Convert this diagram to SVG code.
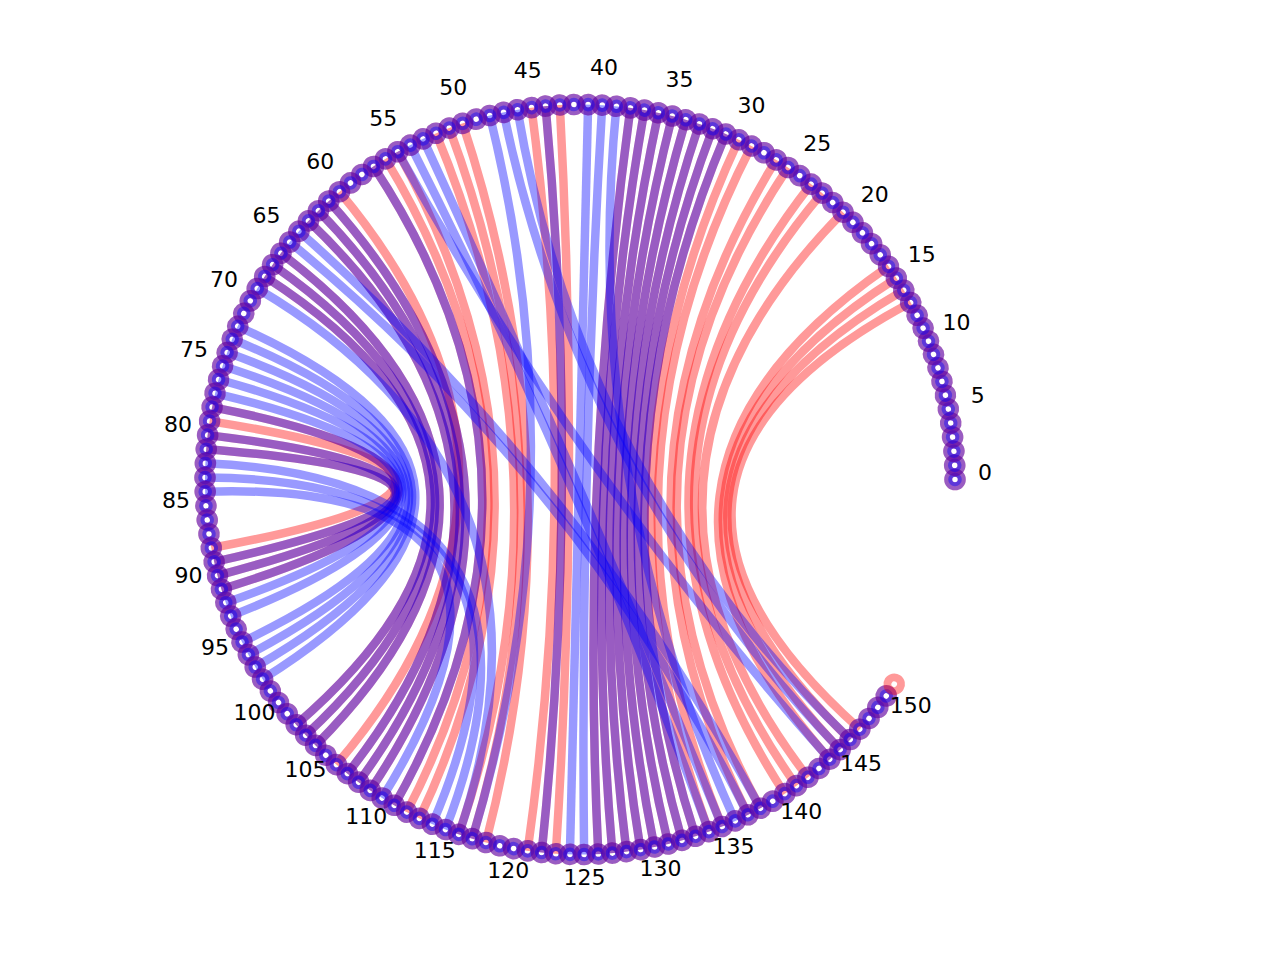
<svg xmlns="http://www.w3.org/2000/svg" xmlns:xlink="http://www.w3.org/1999/xlink" width="1280" height="960" viewBox="0 0 1280 960">
<style>
.cr{fill:none;stroke:rgba(255,0,0,0.4);stroke-width:8.5}
.cb{fill:none;stroke:rgba(0,0,255,0.4);stroke-width:8.5}
.rr{fill:none;stroke:rgba(255,0,0,0.4);stroke-width:8}
.br{fill:none;stroke:rgba(0,0,255,0.4);stroke-width:8}
.bi{fill:none;stroke:rgba(0,0,255,0.4);stroke-width:4}
.lb{font-family:"DejaVu Sans","Liberation Sans",sans-serif;font-size:22px;fill:#000;text-anchor:middle}
</style>
<defs>
<circle id="R" class="rr" cx="955" cy="479.5" r="6.8"/>
<g id="B"><circle class="br" cx="955" cy="479.5" r="6.8"/><circle class="bi" cx="955" cy="479.5" r="4.8"/></g>
</defs>
<rect width="1280" height="960" fill="#fff"/>
<g id="connectors">
<g id="red-chords">
<path class="cr" d="M910.7 302.6Q580 479.5 859.8 729.1"/>
<path class="cr" d="M903.8 290.2Q580 479.5 850.2 739.6"/>
<path class="cr" d="M896.4 278.1Q580 479.5 840.1 749.6"/>
<path class="cr" d="M888.5 266.3Q580 479.5 829.7 759.3"/>
<path class="cr" d="M843 212.2Q580 479.5 807.9 777.3"/>
<path class="cr" d="M822.1 193.1Q580 479.5 796.5 785.7"/>
<path class="cr" d="M811.1 184.2Q580 479.5 784.8 793.7"/>
<path class="cr" d="M788.1 167.6Q580 479.5 760.5 808.2"/>
<path class="cr" d="M776.2 159.9Q580 479.5 748 814.8"/>
<path class="cr" d="M751.5 146Q580 479.5 722.1 826.5"/>
<path class="cr" d="M738.8 139.8Q580 479.5 708.9 831.6"/>
<path class="cr" d="M559.8 105.1Q580 479.5 555.8 853.7"/>
<path class="cr" d="M531.5 107.7Q580 479.5 527.6 850.8"/>
<path class="cr" d="M462.6 123.4Q580 479.5 485.9 842.5"/>
<path class="cr" d="M449.2 128.1Q580 479.5 472.3 838.7"/>
<path class="cr" d="M436 133.3Q580 479.5 458.8 834.4"/>
<path class="cr" d="M397.7 151.8Q580 479.5 419.4 818.4"/>
<path class="cr" d="M385.5 158.9Q580 479.5 406.7 812.1"/>
<path class="cr" d="M339.5 191.8Q580 479.5 336.4 764.6"/>
<path class="cr" d="M209.6 421.1Q580 479.5 211.3 548"/>
<path class="cr" d="M725.8 134Q580 479.5 695.5 836.3"/>
<path class="cr" d="M712.7 128.8Q580 479.5 682 840.4"/>
<path class="cr" d="M699.3 124Q580 479.5 668.3 844"/>
<path class="cr" d="M685.8 119.7Q580 479.5 654.4 847"/>
<path class="cr" d="M672.2 116Q580 479.5 640.5 849.6"/>
<path class="cr" d="M658.4 112.8Q580 479.5 626.5 851.6"/>
<path class="cr" d="M644.4 110.1Q580 479.5 612.4 853.1"/>
<path class="cr" d="M630.4 107.9Q580 479.5 598.3 854.1"/>
<path class="cr" d="M545.6 106.1Q580 479.5 541.7 852.5"/>
<path class="cr" d="M373.5 166.4Q580 479.5 394.3 805.3"/>
<path class="cr" d="M328.8 201.1Q580 479.5 370.2 790.3"/>
<path class="cr" d="M318.4 210.8Q580 479.5 358.6 782.2"/>
<path class="cr" d="M308.5 220.9Q580 479.5 347.4 773.6"/>
<path class="cr" d="M280.9 253.2Q580 479.5 315.6 745.4"/>
<path class="cr" d="M272.6 264.7Q580 479.5 305.7 735.2"/>
<path class="cr" d="M264.7 276.5Q580 479.5 296.2 724.7"/>
<path class="cr" d="M212.1 407.1Q580 479.5 221.4 589.2"/>
<path class="cr" d="M207.6 435.1Q580 479.5 217.5 575.6"/>
<path class="cr" d="M206.2 449.2Q580 479.5 214.2 561.9"/>
</g>
<g id="blue-chords">
<path class="cb" d="M725.8 134Q580 479.5 695.5 836.3"/>
<path class="cb" d="M712.7 128.8Q580 479.5 682 840.4"/>
<path class="cb" d="M699.3 124Q580 479.5 668.3 844"/>
<path class="cb" d="M685.8 119.7Q580 479.5 654.4 847"/>
<path class="cb" d="M672.2 116Q580 479.5 640.5 849.6"/>
<path class="cb" d="M658.4 112.8Q580 479.5 626.5 851.6"/>
<path class="cb" d="M644.4 110.1Q580 479.5 612.4 853.1"/>
<path class="cb" d="M630.4 107.9Q580 479.5 598.3 854.1"/>
<path class="cb" d="M545.6 106.1Q580 479.5 541.7 852.5"/>
<path class="cb" d="M373.5 166.4Q580 479.5 394.3 805.3"/>
<path class="cb" d="M328.8 201.1Q580 479.5 370.2 790.3"/>
<path class="cb" d="M318.4 210.8Q580 479.5 358.6 782.2"/>
<path class="cb" d="M308.5 220.9Q580 479.5 347.4 773.6"/>
<path class="cb" d="M280.9 253.2Q580 479.5 315.6 745.4"/>
<path class="cb" d="M272.6 264.7Q580 479.5 305.7 735.2"/>
<path class="cb" d="M264.7 276.5Q580 479.5 296.2 724.7"/>
<path class="cb" d="M212.1 407.1Q580 479.5 221.4 589.2"/>
<path class="cb" d="M207.6 435.1Q580 479.5 217.5 575.6"/>
<path class="cb" d="M206.2 449.2Q580 479.5 214.2 561.9"/>
<path class="cb" d="M602.2 105.2Q580 479.5 584.1 854.5"/>
<path class="cb" d="M588.1 104.6Q580 479.5 569.9 854.4"/>
<path class="cb" d="M616.4 106.3Q580 479.5 735.2 820.9"/>
<path class="cb" d="M517.5 109.7Q580 479.5 850.2 739.6"/>
<path class="cb" d="M503.6 112.4Q580 479.5 840.1 749.6"/>
<path class="cb" d="M489.8 115.5Q580 479.5 472.3 838.7"/>
<path class="cb" d="M423 138.9Q580 479.5 722.1 826.5"/>
<path class="cb" d="M410.3 145.1Q580 479.5 708.9 831.6"/>
<path class="cb" d="M397.7 151.8Q580 479.5 829.7 759.3"/>
<path class="cb" d="M298.9 231.3Q580 479.5 760.5 808.2"/>
<path class="cb" d="M289.7 242.1Q580 479.5 748 814.8"/>
<path class="cb" d="M257.3 288.5Q580 479.5 458.8 834.4"/>
<path class="cb" d="M237.7 326.3Q580 479.5 262.6 679.2"/>
<path class="cb" d="M232.2 339.3Q580 479.5 255.3 667"/>
<path class="cb" d="M227.2 352.5Q580 479.5 248.4 654.7"/>
<path class="cb" d="M222.6 366Q580 479.5 242 642"/>
<path class="cb" d="M218.6 379.5Q580 479.5 230.7 616"/>
<path class="cb" d="M215.1 393.3Q580 479.5 225.8 602.7"/>
<path class="cb" d="M205.4 463.3Q580 479.5 445.5 829.5"/>
<path class="cb" d="M205 477.5Q580 479.5 432.3 824.2"/>
<path class="cb" d="M205.2 491.7Q580 479.5 382.1 798"/>
</g>
</g>
<g id="nodes">
<g id="n0"><use xlink:href="#R"/><use xlink:href="#B"/></g>
<g id="n1" transform="rotate(-2.165 580 479.5)"><use xlink:href="#R"/><use xlink:href="#B"/></g>
<g id="n2" transform="rotate(-4.33 580 479.5)"><use xlink:href="#R"/><use xlink:href="#B"/></g>
<g id="n3" transform="rotate(-6.495 580 479.5)"><use xlink:href="#R"/><use xlink:href="#B"/></g>
<g id="n4" transform="rotate(-8.66 580 479.5)"><use xlink:href="#R"/><use xlink:href="#B"/></g>
<g id="n5" transform="rotate(-10.825 580 479.5)"><use xlink:href="#R"/><use xlink:href="#B"/></g>
<g id="n6" transform="rotate(-12.99 580 479.5)"><use xlink:href="#R"/><use xlink:href="#B"/></g>
<g id="n7" transform="rotate(-15.155 580 479.5)"><use xlink:href="#R"/><use xlink:href="#B"/></g>
<g id="n8" transform="rotate(-17.32 580 479.5)"><use xlink:href="#R"/><use xlink:href="#B"/></g>
<g id="n9" transform="rotate(-19.485 580 479.5)"><use xlink:href="#R"/><use xlink:href="#B"/></g>
<g id="n10" transform="rotate(-21.65 580 479.5)"><use xlink:href="#R"/><use xlink:href="#B"/></g>
<g id="n11" transform="rotate(-23.815 580 479.5)"><use xlink:href="#R"/><use xlink:href="#B"/></g>
<g id="n12" transform="rotate(-25.98 580 479.5)"><use xlink:href="#R"/><use xlink:href="#B"/></g>
<g id="n13" transform="rotate(-28.145 580 479.5)"><use xlink:href="#R"/><use xlink:href="#B"/></g>
<g id="n14" transform="rotate(-30.31 580 479.5)"><use xlink:href="#R"/><use xlink:href="#B"/></g>
<g id="n15" transform="rotate(-32.475 580 479.5)"><use xlink:href="#R"/><use xlink:href="#B"/></g>
<g id="n16" transform="rotate(-34.64 580 479.5)"><use xlink:href="#R"/><use xlink:href="#B"/></g>
<g id="n17" transform="rotate(-36.805 580 479.5)"><use xlink:href="#R"/><use xlink:href="#B"/></g>
<g id="n18" transform="rotate(-38.97 580 479.5)"><use xlink:href="#R"/><use xlink:href="#B"/></g>
<g id="n19" transform="rotate(-41.135 580 479.5)"><use xlink:href="#R"/><use xlink:href="#B"/></g>
<g id="n20" transform="rotate(-43.3 580 479.5)"><use xlink:href="#R"/><use xlink:href="#B"/></g>
<g id="n21" transform="rotate(-45.465 580 479.5)"><use xlink:href="#R"/><use xlink:href="#B"/></g>
<g id="n22" transform="rotate(-47.63 580 479.5)"><use xlink:href="#R"/><use xlink:href="#B"/></g>
<g id="n23" transform="rotate(-49.795 580 479.5)"><use xlink:href="#R"/><use xlink:href="#B"/></g>
<g id="n24" transform="rotate(-51.96 580 479.5)"><use xlink:href="#R"/><use xlink:href="#B"/></g>
<g id="n25" transform="rotate(-54.125 580 479.5)"><use xlink:href="#R"/><use xlink:href="#B"/></g>
<g id="n26" transform="rotate(-56.29 580 479.5)"><use xlink:href="#R"/><use xlink:href="#B"/></g>
<g id="n27" transform="rotate(-58.455 580 479.5)"><use xlink:href="#R"/><use xlink:href="#B"/></g>
<g id="n28" transform="rotate(-60.62 580 479.5)"><use xlink:href="#R"/><use xlink:href="#B"/></g>
<g id="n29" transform="rotate(-62.785 580 479.5)"><use xlink:href="#R"/><use xlink:href="#B"/></g>
<g id="n30" transform="rotate(-64.95 580 479.5)"><use xlink:href="#R"/><use xlink:href="#B"/></g>
<g id="n31" transform="rotate(-67.115 580 479.5)"><use xlink:href="#R"/><use xlink:href="#B"/></g>
<g id="n32" transform="rotate(-69.28 580 479.5)"><use xlink:href="#R"/><use xlink:href="#B"/></g>
<g id="n33" transform="rotate(-71.445 580 479.5)"><use xlink:href="#R"/><use xlink:href="#B"/></g>
<g id="n34" transform="rotate(-73.61 580 479.5)"><use xlink:href="#R"/><use xlink:href="#B"/></g>
<g id="n35" transform="rotate(-75.775 580 479.5)"><use xlink:href="#R"/><use xlink:href="#B"/></g>
<g id="n36" transform="rotate(-77.94 580 479.5)"><use xlink:href="#R"/><use xlink:href="#B"/></g>
<g id="n37" transform="rotate(-80.105 580 479.5)"><use xlink:href="#R"/><use xlink:href="#B"/></g>
<g id="n38" transform="rotate(-82.27 580 479.5)"><use xlink:href="#R"/><use xlink:href="#B"/></g>
<g id="n39" transform="rotate(-84.435 580 479.5)"><use xlink:href="#R"/><use xlink:href="#B"/></g>
<g id="n40" transform="rotate(-86.6 580 479.5)"><use xlink:href="#R"/><use xlink:href="#B"/></g>
<g id="n41" transform="rotate(-88.765 580 479.5)"><use xlink:href="#R"/><use xlink:href="#B"/></g>
<g id="n42" transform="rotate(-90.93 580 479.5)"><use xlink:href="#R"/><use xlink:href="#B"/></g>
<g id="n43" transform="rotate(-93.095 580 479.5)"><use xlink:href="#R"/><use xlink:href="#B"/></g>
<g id="n44" transform="rotate(-95.26 580 479.5)"><use xlink:href="#R"/><use xlink:href="#B"/></g>
<g id="n45" transform="rotate(-97.425 580 479.5)"><use xlink:href="#R"/><use xlink:href="#B"/></g>
<g id="n46" transform="rotate(-99.59 580 479.5)"><use xlink:href="#R"/><use xlink:href="#B"/></g>
<g id="n47" transform="rotate(-101.755 580 479.5)"><use xlink:href="#R"/><use xlink:href="#B"/></g>
<g id="n48" transform="rotate(-103.92 580 479.5)"><use xlink:href="#R"/><use xlink:href="#B"/></g>
<g id="n49" transform="rotate(-106.085 580 479.5)"><use xlink:href="#R"/><use xlink:href="#B"/></g>
<g id="n50" transform="rotate(-108.25 580 479.5)"><use xlink:href="#R"/><use xlink:href="#B"/></g>
<g id="n51" transform="rotate(-110.415 580 479.5)"><use xlink:href="#R"/><use xlink:href="#B"/></g>
<g id="n52" transform="rotate(-112.58 580 479.5)"><use xlink:href="#R"/><use xlink:href="#B"/></g>
<g id="n53" transform="rotate(-114.745 580 479.5)"><use xlink:href="#R"/><use xlink:href="#B"/></g>
<g id="n54" transform="rotate(-116.91 580 479.5)"><use xlink:href="#R"/><use xlink:href="#B"/></g>
<g id="n55" transform="rotate(-119.075 580 479.5)"><use xlink:href="#R"/><use xlink:href="#B"/></g>
<g id="n56" transform="rotate(-121.24 580 479.5)"><use xlink:href="#R"/><use xlink:href="#B"/></g>
<g id="n57" transform="rotate(-123.405 580 479.5)"><use xlink:href="#R"/><use xlink:href="#B"/></g>
<g id="n58" transform="rotate(-125.57 580 479.5)"><use xlink:href="#R"/><use xlink:href="#B"/></g>
<g id="n59" transform="rotate(-127.735 580 479.5)"><use xlink:href="#R"/><use xlink:href="#B"/></g>
<g id="n60" transform="rotate(-129.9 580 479.5)"><use xlink:href="#R"/><use xlink:href="#B"/></g>
<g id="n61" transform="rotate(-132.065 580 479.5)"><use xlink:href="#R"/><use xlink:href="#B"/></g>
<g id="n62" transform="rotate(-134.23 580 479.5)"><use xlink:href="#R"/><use xlink:href="#B"/></g>
<g id="n63" transform="rotate(-136.395 580 479.5)"><use xlink:href="#R"/><use xlink:href="#B"/></g>
<g id="n64" transform="rotate(-138.56 580 479.5)"><use xlink:href="#R"/><use xlink:href="#B"/></g>
<g id="n65" transform="rotate(-140.725 580 479.5)"><use xlink:href="#R"/><use xlink:href="#B"/></g>
<g id="n66" transform="rotate(-142.89 580 479.5)"><use xlink:href="#R"/><use xlink:href="#B"/></g>
<g id="n67" transform="rotate(-145.055 580 479.5)"><use xlink:href="#R"/><use xlink:href="#B"/></g>
<g id="n68" transform="rotate(-147.22 580 479.5)"><use xlink:href="#R"/><use xlink:href="#B"/></g>
<g id="n69" transform="rotate(-149.385 580 479.5)"><use xlink:href="#R"/><use xlink:href="#B"/></g>
<g id="n70" transform="rotate(-151.55 580 479.5)"><use xlink:href="#R"/><use xlink:href="#B"/></g>
<g id="n71" transform="rotate(-153.715 580 479.5)"><use xlink:href="#R"/><use xlink:href="#B"/></g>
<g id="n72" transform="rotate(-155.88 580 479.5)"><use xlink:href="#R"/><use xlink:href="#B"/></g>
<g id="n73" transform="rotate(-158.045 580 479.5)"><use xlink:href="#R"/><use xlink:href="#B"/></g>
<g id="n74" transform="rotate(-160.21 580 479.5)"><use xlink:href="#R"/><use xlink:href="#B"/></g>
<g id="n75" transform="rotate(-162.375 580 479.5)"><use xlink:href="#R"/><use xlink:href="#B"/></g>
<g id="n76" transform="rotate(-164.54 580 479.5)"><use xlink:href="#R"/><use xlink:href="#B"/></g>
<g id="n77" transform="rotate(-166.705 580 479.5)"><use xlink:href="#R"/><use xlink:href="#B"/></g>
<g id="n78" transform="rotate(-168.87 580 479.5)"><use xlink:href="#R"/><use xlink:href="#B"/></g>
<g id="n79" transform="rotate(-171.035 580 479.5)"><use xlink:href="#R"/><use xlink:href="#B"/></g>
<g id="n80" transform="rotate(-173.2 580 479.5)"><use xlink:href="#R"/><use xlink:href="#B"/></g>
<g id="n81" transform="rotate(-175.365 580 479.5)"><use xlink:href="#R"/><use xlink:href="#B"/></g>
<g id="n82" transform="rotate(-177.53 580 479.5)"><use xlink:href="#R"/><use xlink:href="#B"/></g>
<g id="n83" transform="rotate(-179.695 580 479.5)"><use xlink:href="#R"/><use xlink:href="#B"/></g>
<g id="n84" transform="rotate(-181.86 580 479.5)"><use xlink:href="#R"/><use xlink:href="#B"/></g>
<g id="n85" transform="rotate(-184.025 580 479.5)"><use xlink:href="#R"/><use xlink:href="#B"/></g>
<g id="n86" transform="rotate(-186.19 580 479.5)"><use xlink:href="#R"/><use xlink:href="#B"/></g>
<g id="n87" transform="rotate(-188.355 580 479.5)"><use xlink:href="#R"/><use xlink:href="#B"/></g>
<g id="n88" transform="rotate(-190.52 580 479.5)"><use xlink:href="#R"/><use xlink:href="#B"/></g>
<g id="n89" transform="rotate(-192.685 580 479.5)"><use xlink:href="#R"/><use xlink:href="#B"/></g>
<g id="n90" transform="rotate(-194.85 580 479.5)"><use xlink:href="#R"/><use xlink:href="#B"/></g>
<g id="n91" transform="rotate(-197.015 580 479.5)"><use xlink:href="#R"/><use xlink:href="#B"/></g>
<g id="n92" transform="rotate(-199.18 580 479.5)"><use xlink:href="#R"/><use xlink:href="#B"/></g>
<g id="n93" transform="rotate(-201.345 580 479.5)"><use xlink:href="#R"/><use xlink:href="#B"/></g>
<g id="n94" transform="rotate(-203.51 580 479.5)"><use xlink:href="#R"/><use xlink:href="#B"/></g>
<g id="n95" transform="rotate(-205.675 580 479.5)"><use xlink:href="#R"/><use xlink:href="#B"/></g>
<g id="n96" transform="rotate(-207.84 580 479.5)"><use xlink:href="#R"/><use xlink:href="#B"/></g>
<g id="n97" transform="rotate(-210.005 580 479.5)"><use xlink:href="#R"/><use xlink:href="#B"/></g>
<g id="n98" transform="rotate(-212.17 580 479.5)"><use xlink:href="#R"/><use xlink:href="#B"/></g>
<g id="n99" transform="rotate(-214.335 580 479.5)"><use xlink:href="#R"/><use xlink:href="#B"/></g>
<g id="n100" transform="rotate(-216.5 580 479.5)"><use xlink:href="#R"/><use xlink:href="#B"/></g>
<g id="n101" transform="rotate(-218.665 580 479.5)"><use xlink:href="#R"/><use xlink:href="#B"/></g>
<g id="n102" transform="rotate(-220.83 580 479.5)"><use xlink:href="#R"/><use xlink:href="#B"/></g>
<g id="n103" transform="rotate(-222.995 580 479.5)"><use xlink:href="#R"/><use xlink:href="#B"/></g>
<g id="n104" transform="rotate(-225.16 580 479.5)"><use xlink:href="#R"/><use xlink:href="#B"/></g>
<g id="n105" transform="rotate(-227.325 580 479.5)"><use xlink:href="#R"/><use xlink:href="#B"/></g>
<g id="n106" transform="rotate(-229.49 580 479.5)"><use xlink:href="#R"/><use xlink:href="#B"/></g>
<g id="n107" transform="rotate(-231.655 580 479.5)"><use xlink:href="#R"/><use xlink:href="#B"/></g>
<g id="n108" transform="rotate(-233.82 580 479.5)"><use xlink:href="#R"/><use xlink:href="#B"/></g>
<g id="n109" transform="rotate(-235.985 580 479.5)"><use xlink:href="#R"/><use xlink:href="#B"/></g>
<g id="n110" transform="rotate(-238.15 580 479.5)"><use xlink:href="#R"/><use xlink:href="#B"/></g>
<g id="n111" transform="rotate(-240.315 580 479.5)"><use xlink:href="#R"/><use xlink:href="#B"/></g>
<g id="n112" transform="rotate(-242.48 580 479.5)"><use xlink:href="#R"/><use xlink:href="#B"/></g>
<g id="n113" transform="rotate(-244.645 580 479.5)"><use xlink:href="#R"/><use xlink:href="#B"/></g>
<g id="n114" transform="rotate(-246.81 580 479.5)"><use xlink:href="#R"/><use xlink:href="#B"/></g>
<g id="n115" transform="rotate(-248.975 580 479.5)"><use xlink:href="#R"/><use xlink:href="#B"/></g>
<g id="n116" transform="rotate(-251.14 580 479.5)"><use xlink:href="#R"/><use xlink:href="#B"/></g>
<g id="n117" transform="rotate(-253.305 580 479.5)"><use xlink:href="#R"/><use xlink:href="#B"/></g>
<g id="n118" transform="rotate(-255.47 580 479.5)"><use xlink:href="#R"/><use xlink:href="#B"/></g>
<g id="n119" transform="rotate(-257.635 580 479.5)"><use xlink:href="#R"/><use xlink:href="#B"/></g>
<g id="n120" transform="rotate(-259.8 580 479.5)"><use xlink:href="#R"/><use xlink:href="#B"/></g>
<g id="n121" transform="rotate(-261.965 580 479.5)"><use xlink:href="#R"/><use xlink:href="#B"/></g>
<g id="n122" transform="rotate(-264.13 580 479.5)"><use xlink:href="#R"/><use xlink:href="#B"/></g>
<g id="n123" transform="rotate(-266.295 580 479.5)"><use xlink:href="#R"/><use xlink:href="#B"/></g>
<g id="n124" transform="rotate(-268.46 580 479.5)"><use xlink:href="#R"/><use xlink:href="#B"/></g>
<g id="n125" transform="rotate(-270.625 580 479.5)"><use xlink:href="#R"/><use xlink:href="#B"/></g>
<g id="n126" transform="rotate(-272.79 580 479.5)"><use xlink:href="#R"/><use xlink:href="#B"/></g>
<g id="n127" transform="rotate(-274.955 580 479.5)"><use xlink:href="#R"/><use xlink:href="#B"/></g>
<g id="n128" transform="rotate(-277.12 580 479.5)"><use xlink:href="#R"/><use xlink:href="#B"/></g>
<g id="n129" transform="rotate(-279.285 580 479.5)"><use xlink:href="#R"/><use xlink:href="#B"/></g>
<g id="n130" transform="rotate(-281.45 580 479.5)"><use xlink:href="#R"/><use xlink:href="#B"/></g>
<g id="n131" transform="rotate(-283.615 580 479.5)"><use xlink:href="#R"/><use xlink:href="#B"/></g>
<g id="n132" transform="rotate(-285.78 580 479.5)"><use xlink:href="#R"/><use xlink:href="#B"/></g>
<g id="n133" transform="rotate(-287.945 580 479.5)"><use xlink:href="#R"/><use xlink:href="#B"/></g>
<g id="n134" transform="rotate(-290.11 580 479.5)"><use xlink:href="#R"/><use xlink:href="#B"/></g>
<g id="n135" transform="rotate(-292.275 580 479.5)"><use xlink:href="#R"/><use xlink:href="#B"/></g>
<g id="n136" transform="rotate(-294.44 580 479.5)"><use xlink:href="#R"/><use xlink:href="#B"/></g>
<g id="n137" transform="rotate(-296.605 580 479.5)"><use xlink:href="#R"/><use xlink:href="#B"/></g>
<g id="n138" transform="rotate(-298.77 580 479.5)"><use xlink:href="#R"/><use xlink:href="#B"/></g>
<g id="n139" transform="rotate(-300.935 580 479.5)"><use xlink:href="#R"/><use xlink:href="#B"/></g>
<g id="n140" transform="rotate(-303.1 580 479.5)"><use xlink:href="#R"/><use xlink:href="#B"/></g>
<g id="n141" transform="rotate(-305.265 580 479.5)"><use xlink:href="#R"/><use xlink:href="#B"/></g>
<g id="n142" transform="rotate(-307.43 580 479.5)"><use xlink:href="#R"/><use xlink:href="#B"/></g>
<g id="n143" transform="rotate(-309.595 580 479.5)"><use xlink:href="#R"/><use xlink:href="#B"/></g>
<g id="n144" transform="rotate(-311.76 580 479.5)"><use xlink:href="#R"/><use xlink:href="#B"/></g>
<g id="n145" transform="rotate(-313.925 580 479.5)"><use xlink:href="#R"/><use xlink:href="#B"/></g>
<g id="n146" transform="rotate(-316.09 580 479.5)"><use xlink:href="#R"/><use xlink:href="#B"/></g>
<g id="n147" transform="rotate(-318.255 580 479.5)"><use xlink:href="#R"/><use xlink:href="#B"/></g>
<g id="n148" transform="rotate(-320.42 580 479.5)"><use xlink:href="#R"/><use xlink:href="#B"/></g>
<g id="n149" transform="rotate(-322.585 580 479.5)"><use xlink:href="#R"/><use xlink:href="#B"/></g>
<g id="n150" transform="rotate(-324.75 580 479.5)"><use xlink:href="#R"/><use xlink:href="#B"/></g>
<g id="n151" transform="rotate(-326.915 580 479.5)"><use xlink:href="#R"/></g>
</g>
<g id="labels" class="lb">
<text x="985" y="479.5">0</text>
<text x="977.8" y="403.4">5</text>
<text x="956.4" y="330.1">10</text>
<text x="921.7" y="262">15</text>
<text x="874.8" y="201.7">20</text>
<text x="817.3" y="151.3">25</text>
<text x="751.5" y="112.6">30</text>
<text x="679.5" y="86.9">35</text>
<text x="604" y="75.2">40</text>
<text x="527.7" y="77.9">45</text>
<text x="453.2" y="94.9">50</text>
<text x="383.2" y="125.6">55</text>
<text x="320.2" y="168.8">60</text>
<text x="266.5" y="223.1">65</text>
<text x="223.9" y="286.6">70</text>
<text x="194" y="356.9">75</text>
<text x="177.9" y="431.5">80</text>
<text x="176" y="507.9">85</text>
<text x="188.5" y="583.3">90</text>
<text x="215" y="655">95</text>
<text x="254.4" y="720.4">100</text>
<text x="305.5" y="777.3">105</text>
<text x="366.3" y="823.5">110</text>
<text x="434.7" y="857.5">115</text>
<text x="508.3" y="878.1">120</text>
<text x="584.4" y="884.5">125</text>
<text x="660.4" y="876.4">130</text>
<text x="733.5" y="854.3">135</text>
<text x="801.2" y="818.8">140</text>
<text x="861" y="771.2">145</text>
<text x="910.7" y="713.3">150</text>
</g>
</svg>
